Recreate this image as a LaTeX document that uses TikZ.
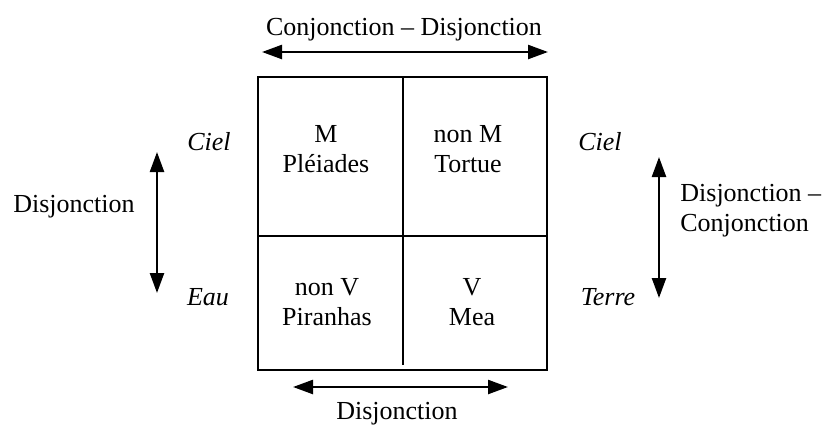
\documentclass[tikz,border=0pt]{standalone}
\usepackage{fontspec}
\setmainfont{Liberation Serif}
\usetikzlibrary{arrows.meta}

\tikzset{
  lbl/.style={font=\fontsize{13}{15}\selectfont, inner sep=0pt},
  cell/.style={lbl, align=center, anchor=north},
  side/.style={lbl, font=\fontsize{13}{15}\selectfont\itshape, anchor=base},
  dbl/.style={{Triangle[length=10pt,width=7pt]}-{Triangle[length=10pt,width=7pt]}, line width=1.2pt}
}

\begin{document}
\begin{tikzpicture}[x=0.5pt,y=-0.5pt]
\useasboundingbox (0,0) rectangle (826,424);
% square
\draw[line width=1.3pt] (258,77) rectangle (547,370);
\coordinate (midL) at (258,236);
\coordinate (midR) at (547,236);
\coordinate (midT) at (403,77);
\coordinate (midB) at (403,365);
\draw[line width=1pt] (midL) -- (midR);
\draw[line width=1pt] (midT) -- (midB);
% cells
\foreach \n/\x/\y/\t in {mp/326/125/{M\\Pléiades}, mt/468/125/{non M\\Tortue},
                         vp/327/278/{non V\\Piranhas}, vm/472/278/{V\\Mea}}
  \node[cell] (\n) at (\x,\y) {\t};
% italic labels
\node[side] (cielL) at (209,150) {Ciel};
\node[side] (eau) at (208,305) {Eau};
\node[side] (cielR) at (600,150) {Ciel};
\node[side] (terre) at (608,305) {Terre};
% arrows
\coordinate (topA) at (262,52);
\coordinate (topB) at (548,52);
\coordinate (botA) at (293,387);
\coordinate (botB) at (508,387);
\coordinate (lftA) at (157,152);
\coordinate (lftB) at (157,293);
\coordinate (rgtA) at (659,157);
\coordinate (rgtB) at (659,298);
\foreach \a/\b in {topA/topB, botA/botB, lftA/lftB, rgtA/rgtB}
  \draw[dbl] (\a) -- (\b);
\node[lbl, anchor=base] (top) at (404,35) {Conjonction -- Disjonction};
\node[lbl, anchor=base] (bot) at (397,419) {Disjonction};
\node[lbl, anchor=base] (lft) at (74,212) {Disjonction};
\node[lbl, align=left, anchor=north west] (rgt) at (680,184) {Disjonction --\\Conjonction};
\end{tikzpicture}
\end{document}
